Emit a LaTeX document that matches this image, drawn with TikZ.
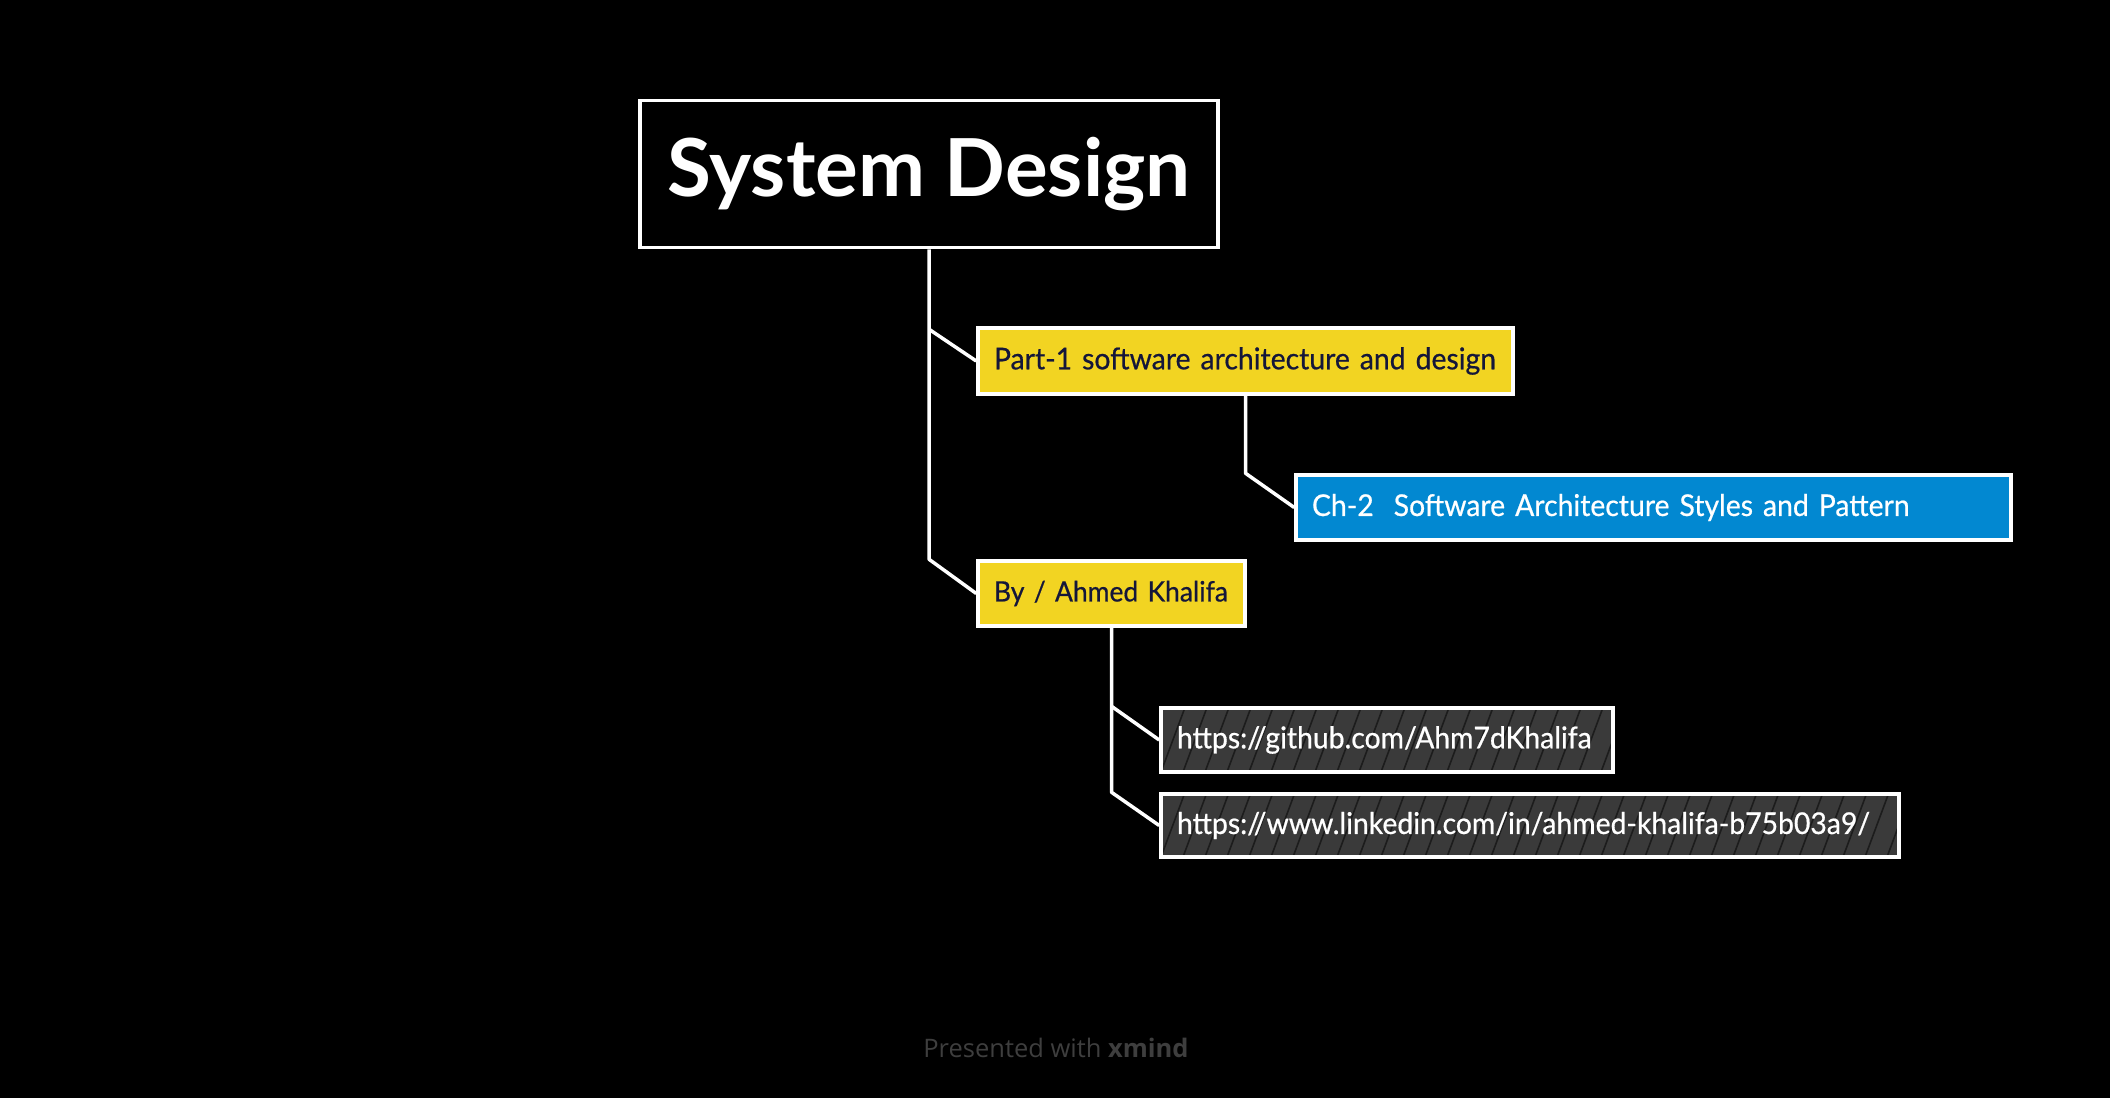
\documentclass[tikz,border=0pt]{standalone}
\usepackage{fontspec}
\setmainfont{Lato}
\newfontfamily\hand[FakeStretch=0.945,FakeBold=0.6]{Lato}
\newfontfamily\footfont{Open Sans}
\definecolor{ylw}{HTML}{F2D422}
\definecolor{navytext}{HTML}{14163A}
\definecolor{bluebox}{HTML}{0288D1}
\definecolor{grayfill}{HTML}{3A3A3A}
\definecolor{hatchc}{HTML}{1C1C1C}
\definecolor{footc}{HTML}{3E3E3E}
\tikzset{
  box/.style={draw=white, line width=3.5pt, rectangle, inner ysep=0pt, inner xsep=16pt, align=left,
    font=\hand\fontsize{30}{36}\selectfont},
  conn/.style={draw=white, line width=3.5pt, line join=round},
  hatched/.style={fill=grayfill, text=white,
    path picture={
      \foreach \k in {-6,...,40}{
        \draw[hatchc, line width=1.6pt]
          ([xshift=\k*22pt]path picture bounding box.south west) -- ++(26pt,70pt);
      }
    }}
}
\begin{document}
\begin{tikzpicture}[x=1pt,y=-1pt]
\fill[black] (0,0) rectangle (2110,1098);
\useasboundingbox (0,0) rectangle (2110,1098);

\node[draw=white, line width=3.5pt, fill=black, text=white, minimum width=578pt, minimum height=147pt,
  inner sep=0pt, font=\bfseries\fontsize{80}{90}\selectfont] (root) at (929,174) {\raisebox{-4pt}{System Design}};

\node[box, fill=ylw, text=navytext, text width=503pt, minimum height=66pt] (p1) at (1245.5,361)
  {\mbox{Part-1 software architecture and design}};
\node[box, fill=bluebox, text=white, text width=683pt, minimum height=65pt] (ch2) at (1653.5,507.5)
  {\mbox{Ch-2\ \ Software Architecture Styles and Pattern}};
\node[box, fill=ylw, text=navytext, text width=235pt, minimum height=65pt,
  font=\hand\fontsize{28}{34}\selectfont] (by) at (1111.5,593.5)
  {\mbox{By / Ahmed Khalifa}};
\node[box, hatched, text width=420pt, minimum height=64pt] (gh) at (1387,740)
  {\mbox{https://github.com/Ahm7dKhalifa}};
\node[box, hatched, text width=706pt, minimum height=63pt] (li) at (1530,825.5)
  {\mbox{https://www.linkedin.com/in/ahmed-khalifa-b75b03a9/}};

\coordinate (j1) at ([yshift=-3pt]root.south |- p1.north);
\coordinate (j2) at (root.south |- by.north);
\coordinate (j3) at (p1.south |- ch2.north);
\coordinate (j4) at (by.south |- gh.north);
\coordinate (j5) at (by.south |- li.north);

\draw[conn] (root.south) -- (j2) -- (by.west);
\draw[conn] (j1) -- (p1.west);
\draw[conn] (p1.south) -- (j3) -- (ch2.west);
\draw[conn] (by.south) -- (j5) -- (li.west);
\draw[conn] (j4) -- (gh.west);

\node[text=footc, font=\footfont\fontsize{25.5}{30}\selectfont] (foot) at (1056,1048)
  {Presented with \textbf{xmind}};
\end{tikzpicture}
\end{document}
